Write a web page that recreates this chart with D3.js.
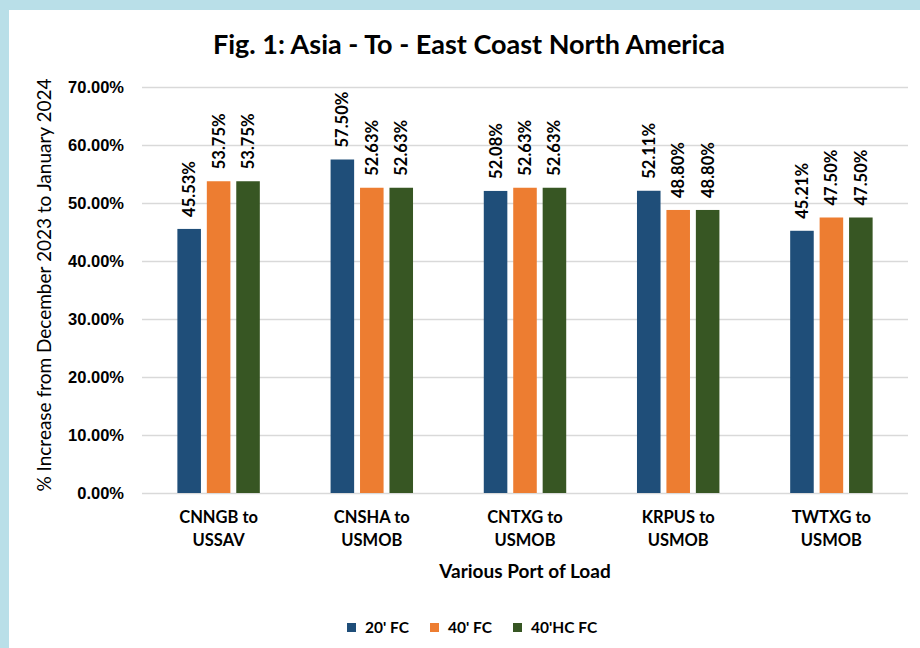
<!DOCTYPE html>
<html>
<head>
<meta charset="utf-8">
<script src="https://cdn.jsdelivr.net/npm/d3@7"></script>
<style>
  html, body { margin: 0; padding: 0; background: #b9dfe8; }
  svg { display: block; font-family: Lato, "Open Sans", sans-serif; }
</style>
</head>
<body>
<svg width="920" height="648"></svg>
<script>
// chart data
const categories = [["CNNGB to", "USSAV"], ["CNSHA to", "USMOB"], ["CNTXG to", "USMOB"], ["KRPUS to", "USMOB"], ["TWTXG to", "USMOB"]]
const seriesNames = ["20' FC", "40' FC", "40'HC FC"]
const fc20 = [45.53, 57.50, 52.08, 52.11, 45.21]
const fc40 = [53.75, 52.63, 52.63, 48.80, 47.50]
const hc40 = [53.75, 52.63, 52.63, 48.80, 47.50]
const yTicks = [0, 10, 20, 30, 40, 50, 60, 70]
const colors = ["#1f4e79", "#ed7d31", "#375623"]

const allSeries = [fc20, fc40, hc40]
const data = categories.map((c, i) => ({
    key: c.join(" "),
    lines: c,
    values: allSeries.map((s, j) => ({ name: seriesNames[j], value: s[i] }))
}))

const svg = d3.select('svg')
const width = +svg.attr('width')
const height = +svg.attr('height')

// white panel
svg.append('rect')
    .attr('x', 9).attr('y', 10)
    .attr('width', width - 9).attr('height', height - 10)
    .attr('fill', '#ffffff')

const margin = { top: 87, right: 12, bottom: 155, left: 142 }
const innerWidth = width - margin.left - margin.right
const innerHeight = height - margin.top - margin.bottom

const g = svg.append('g')
    .attr('transform', `translate(${margin.left}, ${margin.top})`)

const yScale = d3.scaleLinear()
    .domain([0, 70])
    .range([innerHeight, 0])

const x0 = d3.scaleBand()
    .domain(data.map(d => d.key))
    .range([0, innerWidth])
    .paddingInner(0.385)
    .paddingOuter(0.1925)

const x1 = d3.scaleBand()
    .domain(seriesNames)
    .range([0, x0.bandwidth()])
    .padding(0.2)

const color = d3.scaleOrdinal()
    .domain(seriesNames)
    .range(colors)

// gridlines + y labels
const yAxis = g.append('g')
    .call(d3.axisLeft(yScale)
        .tickValues(yTicks)
        .tickSize(-innerWidth)
        .tickFormat(d => d.toFixed(2) + '%'))
yAxis.select('.domain').remove()
yAxis.selectAll('.tick line').attr('stroke', '#d9d9d9').attr('stroke-width', 1.5)
yAxis.selectAll('.tick text')
    .attr('x', -18)
    .attr('fill', '#000')
    .style('font-size', '16.5px')
    .style('font-weight', 'bold')

// bars
const groups = g.append('g')
    .selectAll('g')
    .data(data)
    .join('g')
    .attr('transform', d => `translate(${x0(d.key)},0)`)

groups.selectAll('rect')
    .data(d => d.values)
    .join('rect')
    .attr('x', d => x1(d.name))
    .attr('y', d => yScale(d.value))
    .attr('width', x1.bandwidth())
    .attr('height', d => innerHeight - yScale(d.value))
    .attr('fill', d => color(d.name))

// value labels (rotated)
groups.selectAll('text.val')
    .data(d => d.values)
    .join('text')
    .attr('class', 'val')
    .attr('transform', d => `translate(${x1(d.name) + x1.bandwidth() / 2 + 6},${yScale(d.value) - 12}) rotate(-90)`)
    .style('font-size', '16.5px')
    .style('font-weight', 'bold')
    .text(d => d.value.toFixed(2) + '%')

// category labels
const catLabels = g.append('g')
    .selectAll('text')
    .data(data)
    .join('text')
    .attr('x', d => x0(d.key) + x0.bandwidth() / 2)
    .attr('y', innerHeight + 30)
    .attr('text-anchor', 'middle')
    .style('font-size', '16.5px')
    .style('font-weight', 'bold')
catLabels.selectAll('tspan')
    .data(d => d.lines)
    .join('tspan')
    .attr('x', function () { return d3.select(this.parentNode).attr('x') })
    .attr('dy', (d, i) => i === 0 ? 0 : 23)
    .text(d => d)

// axis titles
g.append('text')
    .attr('x', 525 - margin.left)
    .attr('y', innerHeight + 85)
    .attr('text-anchor', 'middle')
    .style('font-size', '19px')
    .style('font-weight', 'bold')
    .text('Various Port of Load')

g.append('text')
    .attr('transform', `translate(${-91},${285 - margin.top}) rotate(-90)`)
    .attr('text-anchor', 'middle')
    .style('font-size', '19px')
    .text('% Increase from December 2023 to January 2024')

// title
svg.append('text')
    .attr('x', 469)
    .attr('y', 54)
    .attr('text-anchor', 'middle')
    .style('font-size', '27px')
    .style('font-weight', 'bold')
    .text('Fig. 1: Asia - To - East Coast North America')

// legend
const legendX = [347, 430, 513]
const legend = svg.append('g')
    .selectAll('g')
    .data(seriesNames)
    .join('g')
    .attr('transform', (d, i) => `translate(${legendX[i]}, 623)`)
legend.append('rect')
    .attr('width', 9)
    .attr('height', 9)
    .attr('fill', d => color(d))
legend.append('text')
    .attr('x', 18)
    .attr('y', 10)
    .style('font-size', '15.5px')
    .style('font-weight', 'bold')
    .text(d => d)
</script>
</body>
</html>
